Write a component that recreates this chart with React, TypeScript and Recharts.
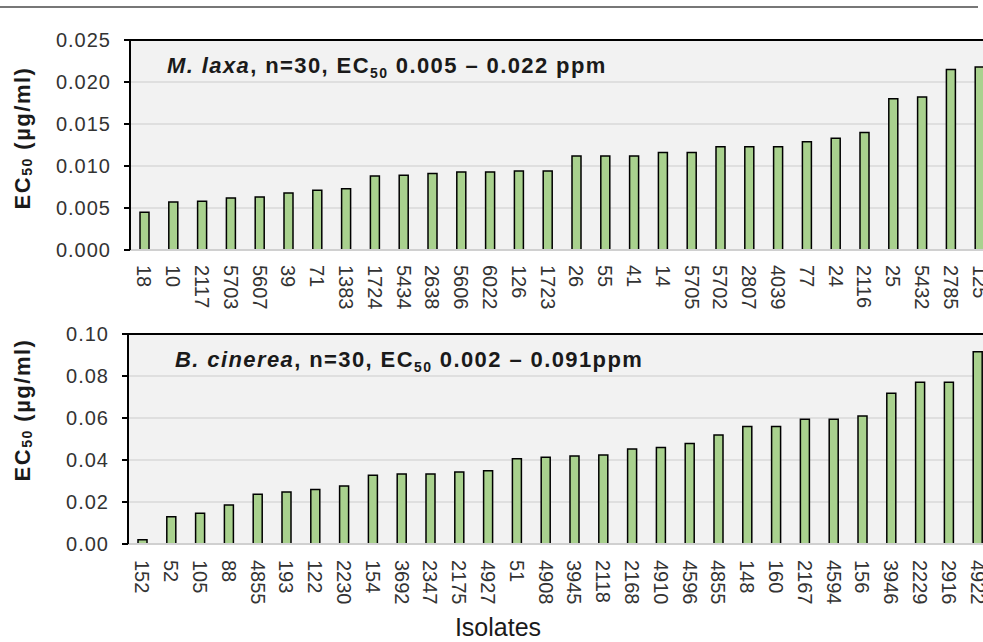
import React from 'react'
import { BarChart, Bar, XAxis, YAxis, CartesianGrid, ReferenceLine } from 'recharts'

const mlaxaIsolates = ['18', '10', '2117', '5703', '5607', '39', '71', '1383', '1724', '5434', '2638', '5606', '6022', '126', '1723', '26', '55', '41', '14', '5705', '5702', '2807', '4039', '77', '24', '2116', '25', '5432', '2785', '125']
const mlaxaEC50 = [0.0045, 0.0057, 0.0058, 0.0062, 0.0063, 0.0068, 0.0071, 0.0073, 0.0088, 0.0089, 0.0091, 0.0093, 0.0093, 0.0094, 0.0094, 0.0112, 0.0112, 0.0112, 0.0116, 0.0116, 0.0123, 0.0123, 0.0123, 0.0129, 0.0133, 0.014, 0.018, 0.0182, 0.0215, 0.0218]
const mlaxaTicks = [0, 0.005, 0.01, 0.015, 0.02, 0.025]

const bcinereaIsolates = ['152', '52', '105', '88', '4855', '193', '122', '2230', '154', '3692', '2347', '2175', '4927', '51', '4908', '3945', '2118', '2168', '4910', '4596', '4855', '148', '160', '2167', '4594', '156', '3946', '2229', '2916', '4922']
const bcinereaEC50 = [0.002, 0.013, 0.0146, 0.0186, 0.0237, 0.0248, 0.0259, 0.0276, 0.0327, 0.0333, 0.0333, 0.0343, 0.0349, 0.0406, 0.0413, 0.0419, 0.0424, 0.0452, 0.0459, 0.0479, 0.0519, 0.0559, 0.0559, 0.0594, 0.0594, 0.061, 0.0718, 0.077, 0.077, 0.0915]
const bcinereaTicks = [0, 0.02, 0.04, 0.06, 0.08, 0.1]

const mlaxaData = mlaxaIsolates.map((isolate, i) => ({ isolate, ec50: mlaxaEC50[i] }))
const bcinereaData = bcinereaIsolates.map((isolate, i) => ({ isolate, ec50: bcinereaEC50[i] }))

const FONT = '"Liberation Sans", Arial, sans-serif'
const BAR_FILL = '#a9d18e'

// rotated isolate labels, reading top to bottom
const VertTick = (props: any) => {
  const { x, y, payload } = props
  return (
    <text
      x={x}
      y={y}
      transform={`rotate(90, ${x}, ${y})`}
      textAnchor='start'
      dominantBaseline='central'
      fontSize={20}
      fontFamily={FONT}
      fill='#333'
    >
      {payload.value}
    </text>
  )
}

const YLabel = ({ cx, cy }: { cx: number; cy: number }) => (
  <text
    x={cx}
    y={cy}
    transform={`rotate(-90, ${cx}, ${cy})`}
    textAnchor='middle'
    dominantBaseline='central'
    fontSize={22}
    fontWeight='bold'
    fontFamily={FONT}
    letterSpacing={1.5}
    fill='#1a1a1a'
  >
    EC<tspan fontSize={14} dy={5}>50</tspan>
    <tspan dy={-5}> (µg/ml)</tspan>
  </text>
)

const Title = ({ x, y, species, rest }: { x: number; y: number; species: string; rest: string[] }) => (
  <text x={x} y={y} fontSize={22} fontWeight='bold' fontFamily={FONT} letterSpacing={1.4} fill='#1a1a1a'>
    <tspan fontStyle='italic'>{species}</tspan>
    <tspan>{rest[0]}</tspan>
    <tspan fontSize={14} dy={5}>50</tspan>
    <tspan dy={-5}>{rest[1]}</tspan>
  </text>
)

export default function App() {
  return (
    <div
      style={{
        position: 'absolute',
        left: 0,
        top: 0,
        width: 983,
        height: 642,
        overflow: 'hidden',
        background: '#fff',
        fontFamily: FONT,
      }}
    >
      <div style={{ position: 'absolute', left: 0, top: 6, width: 978, height: 2, background: '#777' }} />

      <div style={{ position: 'absolute', left: 0, top: 0 }}>
        <BarChart width={1000} height={320} data={mlaxaData} margin={{ top: 40, right: 6, left: 0, bottom: 0 }}>
          <CartesianGrid vertical={false} fill='#f2f2f2' stroke='#d9d9d9' strokeWidth={1.5} />
          <XAxis
            dataKey='isolate'
            interval={0}
            height={70}
            tickLine={false}
            tickSize={0}
            tickMargin={15}
            axisLine={{ stroke: '#d0d0d0', strokeWidth: 2 }}
            tick={<VertTick />}
          />
          <YAxis
            width={130}
            domain={[0, 0.025]}
            ticks={mlaxaTicks}
            tickFormatter={(v: number) => v.toFixed(3)}
            axisLine={{ stroke: '#000', strokeWidth: 2 }}
            tickLine={{ stroke: '#000', strokeWidth: 2 }}
            tickSize={6}
            tickMargin={13}
            tick={{ fontSize: 20, fill: '#333', fontFamily: FONT, letterSpacing: 1 }}
          />
          <ReferenceLine y={0.025} stroke='#000' strokeWidth={2} />
          <Bar dataKey='ec50' fill={BAR_FILL} stroke='#000' strokeWidth={1.5} barSize={9} isAnimationActive={false} />
          <Title x={167} y={73} species='M. laxa' rest={[', n=30, EC', ' 0.005 – 0.022 ppm']} />
          <YLabel cx={22} cy={138} />
        </BarChart>
      </div>

      <div style={{ position: 'absolute', left: 0, top: 294 }}>
        <BarChart width={998} height={348} data={bcinereaData} margin={{ top: 40, right: 6, left: 0, bottom: 0 }}>
          <CartesianGrid vertical={false} fill='#f2f2f2' stroke='#d9d9d9' strokeWidth={1.5} />
          <XAxis
            dataKey='isolate'
            interval={0}
            height={98}
            tickLine={false}
            tickSize={0}
            tickMargin={16}
            axisLine={{ stroke: '#d0d0d0', strokeWidth: 2 }}
            tick={<VertTick />}
          />
          <YAxis
            width={128}
            domain={[0, 0.1]}
            ticks={bcinereaTicks}
            tickFormatter={(v: number) => v.toFixed(2)}
            axisLine={{ stroke: '#000', strokeWidth: 2 }}
            tickLine={{ stroke: '#000', strokeWidth: 2 }}
            tickSize={6}
            tickMargin={13}
            tick={{ fontSize: 20, fill: '#333', fontFamily: FONT, letterSpacing: 1 }}
          />
          <ReferenceLine y={0.1} stroke='#000' strokeWidth={2} />
          <Bar dataKey='ec50' fill={BAR_FILL} stroke='#000' strokeWidth={1.5} barSize={9} isAnimationActive={false} />
          <Title x={175} y={73} species='B. cinerea' rest={[', n=30, EC', ' 0.002 – 0.091ppm']} />
          <YLabel cx={22} cy={116} />
          <text x={498} y={342} textAnchor='middle' fontSize={25} fontFamily={FONT} fill='#1a1a1a'>
            Isolates
          </text>
        </BarChart>
      </div>
    </div>
  )
}
